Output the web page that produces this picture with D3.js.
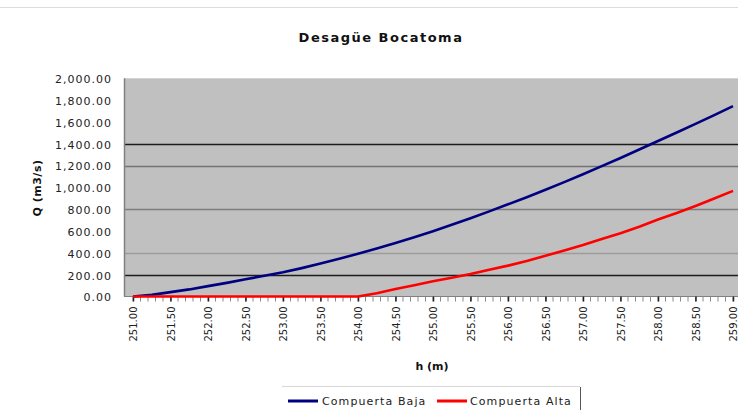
<!DOCTYPE html>
<html>
<head>
<meta charset="utf-8">
<script src="https://cdn.jsdelivr.net/npm/d3@7"></script>
<style>
  html, body { margin: 0; padding: 0; background: #fff; }
  svg { display: block; font-family: "DejaVu Sans", Verdana, sans-serif; }
</style>
</head>
<body>
<svg id="chart" width="738" height="410"></svg>
<script>
// ---- data ----
const title = "Desagüe Bocatoma";
const yTitle = "Q (m3/s)";
const xTitle = "h (m)";
const seriesNames = ["Compuerta Baja", "Compuerta Alta"];
const seriesColors = ["#000080", "#ff0000"];

const hValues = [251.00, 251.25, 251.50, 251.75, 252.00, 252.25, 252.50, 252.75,
                 253.00, 253.25, 253.50, 253.75, 254.00, 254.25, 254.50, 254.75,
                 255.00, 255.25, 255.50, 255.75, 256.00, 256.25, 256.50, 256.75,
                 257.00, 257.25, 257.50, 257.75, 258.00, 258.25, 258.50, 258.75, 259.00];
const qBaja = [0, 15, 40, 65, 95, 125, 158, 190,
               222, 260, 302, 345, 392, 440, 490, 542,
               598, 658, 718, 780, 845, 910, 978, 1048,
               1120, 1195, 1270, 1347, 1425, 1503, 1582, 1663, 1745];
const qAlta = [0, 0, 0, 0, 0, 0, 0, 0,
               0, 0, 0, 0, 0, 30, 68, 104,
               140, 172, 206, 245, 283, 325, 373, 422,
               472, 527, 580, 640, 705, 765, 830, 898, 968];

const xTickLabels = ["251.00","251.50","252.00","252.50","253.00","253.50","254.00","254.50",
                     "255.00","255.50","256.00","256.50","257.00","257.50","258.00","258.50","259.00"];
const yTicks = [0, 200, 400, 600, 800, 1000, 1200, 1400, 1600, 1800, 2000];
// gridline appearance per tick (style only)
const gridOpacity = {200: 0.85, 400: 0.18, 800: 0.35, 1200: 0.4, 1400: 0.85};

// ---- layout ----
const svg = d3.select("#chart");
const plot = {left: 124, right: 738, top: 78.3, bottom: 296.5};

const x = d3.scaleLinear().domain([251, 259]).range([133, 733]);
const y = d3.scaleLinear().domain([0, 2000]).range([plot.bottom, plot.top]);

// chart border line at top
svg.append("line").attr("x1", 0).attr("x2", 738).attr("y1", 7.5).attr("y2", 7.5)
  .attr("stroke", "#dcdcdc").attr("stroke-width", 1);

// plot background
svg.append("rect")
  .attr("x", plot.left).attr("y", plot.top)
  .attr("width", plot.right - plot.left).attr("height", plot.bottom - plot.top)
  .attr("fill", "#c0c0c0");

// gridlines
svg.append("g").selectAll("line")
  .data(yTicks.filter(t => gridOpacity[t]))
  .join("line")
  .attr("x1", plot.left).attr("x2", plot.right)
  .attr("y1", d => Math.round(y(d)) + 0.5).attr("y2", d => Math.round(y(d)) + 0.5)
  .attr("stroke", "#000").attr("stroke-opacity", d => gridOpacity[d]).attr("stroke-width", 1.3);

// left axis line
svg.append("line").attr("x1", plot.left + 0.5).attr("x2", plot.left + 0.5)
  .attr("y1", plot.top).attr("y2", plot.bottom)
  .attr("stroke", "#808080").attr("stroke-width", 1.5);

// bottom axis line
svg.append("line").attr("x1", plot.left).attr("x2", plot.right)
  .attr("y1", plot.bottom).attr("y2", plot.bottom)
  .attr("stroke", "#808080").attr("stroke-width", 1);

// y axis labels
const yAxis = d3.axisLeft(y).tickValues(yTicks).tickSize(0).tickPadding(0)
  .tickFormat(d3.format(",.2f"));
const gy = svg.append("g").attr("transform", `translate(112,0)`).call(yAxis);
gy.select(".domain").remove();
gy.selectAll("text").attr("font-size", 11).attr("letter-spacing", 1)
  .attr("fill", "#222").attr("dy", "0.4em")
  .attr("font-family", "'DejaVu Sans', Verdana, sans-serif");

// x axis ticks (minor every 0.1, label every 0.5)
const minorTicks = d3.range(0, 81).map(i => 251 + i * 0.1);
svg.append("g").selectAll("line").data(minorTicks).join("line")
  .attr("x1", d => x(d)).attr("x2", d => x(d))
  .attr("y1", plot.bottom).attr("y2", plot.bottom + 5)
  .attr("stroke", "#888").attr("stroke-width", 1);

const xAxis = d3.axisBottom(x).tickValues(xTickLabels.map(Number))
  .tickFormat((d, i) => xTickLabels[i]).tickSize(5).tickPadding(0);
const gx = svg.append("g").attr("transform", `translate(0,${plot.bottom})`).call(xAxis);
gx.select(".domain").remove();
gx.selectAll(".tick line").attr("stroke", "#222").attr("stroke-width", 1.5);
gx.selectAll("text")
  .attr("font-size", 10).attr("fill", "#222")
  .attr("font-family", "'DejaVu Sans', Verdana, sans-serif")
  .attr("text-anchor", "end")
  .attr("transform", "translate(0,10) rotate(-90)")
  .attr("x", 0).attr("y", 0).attr("dy", "0.35em");

// lines
const line = d3.line().x((d, i) => x(hValues[i])).y(d => y(d));
[qBaja, qAlta].forEach((vals, k) => {
  svg.append("path").datum(vals)
    .attr("d", line)
    .attr("fill", "none")
    .attr("stroke", seriesColors[k])
    .attr("stroke-width", 2.6)
    .attr("stroke-linejoin", "round");
});

// title
svg.append("text").attr("x", 381).attr("y", 42)
  .attr("text-anchor", "middle").attr("font-size", 13).attr("font-weight", "bold")
  .attr("letter-spacing", 1.5).attr("fill", "#111").text(title);

// y title
svg.append("text").attr("transform", "translate(41,188) rotate(-90)")
  .attr("text-anchor", "middle").attr("font-size", 11).attr("font-weight", "bold")
  .attr("letter-spacing", 0.5).attr("fill", "#111").text(yTitle);

// x title
svg.append("text").attr("x", 432).attr("y", 370)
  .attr("text-anchor", "middle").attr("font-size", 11).attr("font-weight", "bold")
  .attr("fill", "#111").text(xTitle);

// legend
const lg = svg.append("g");
lg.append("line").attr("x1", 282).attr("x2", 580).attr("y1", 386.5).attr("y2", 386.5)
  .attr("stroke", "#d8d8d8");
lg.append("line").attr("x1", 580.5).attr("x2", 580.5).attr("y1", 387).attr("y2", 410)
  .attr("stroke", "#555");
const legendPos = [{lx: 288, tx: 322}, {lx: 437, tx: 470}];
seriesNames.forEach((name, k) => {
  lg.append("line").attr("x1", legendPos[k].lx).attr("x2", legendPos[k].lx + 30)
    .attr("y1", 401).attr("y2", 401)
    .attr("stroke", seriesColors[k]).attr("stroke-width", 3);
  lg.append("text").attr("x", legendPos[k].tx).attr("y", 405)
    .attr("font-size", 11).attr("letter-spacing", 1.1).attr("fill", "#222").text(name);
});
</script>
</body>
</html>
